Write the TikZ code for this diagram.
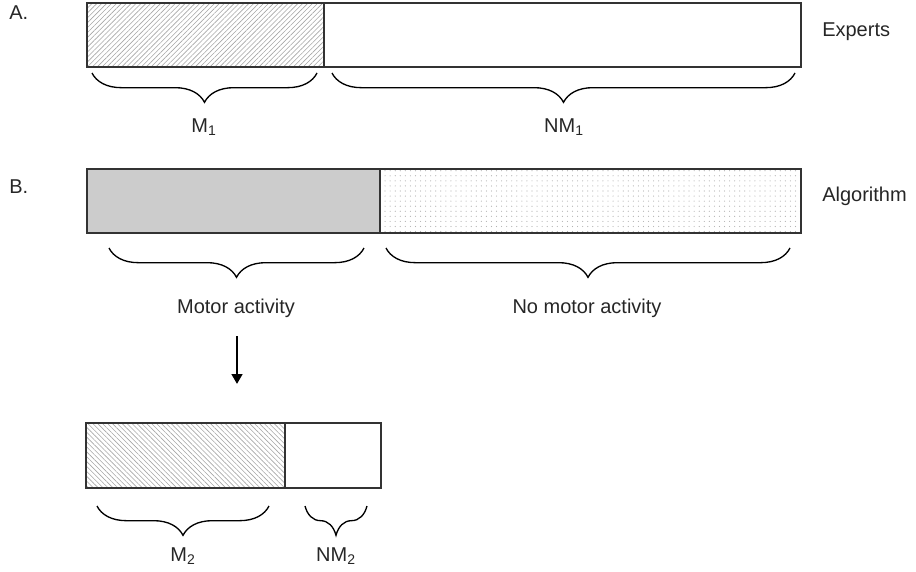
\documentclass[tikz,border=0pt]{standalone}
\usepackage{fontspec}
\setmainfont{Liberation Sans}
\usetikzlibrary{patterns,patterns.meta,decorations.pathreplacing,arrows.meta}
\begin{document}
\begin{tikzpicture}[x=0.75pt,y=-0.75pt,
  boxline/.style={draw=black!80,line width=1.1pt},
  hatchfill/.style={pattern={Lines[angle=#1,distance=2.6pt,line width=0.45pt]},pattern color=black!35},
  densefill/.style={fill=black!20},
  sparsefill/.style={pattern={Dots[distance=3.8pt,radius=0.45pt]},pattern color=black!30},
  bracemark/.style={decorate,decoration={brace,mirror,amplitude=22pt},line width=1pt},
  lbl/.style={font=\fontsize{15}{18}\selectfont,inner sep=0pt,text=black!85},
  flow/.style={line width=2.1pt,-{Triangle[length=7.5pt,width=8pt]}}]
\path[use as bounding box] (0,0) rectangle (916,571);

% panel labels
\node[lbl,anchor=west] (pa) at (9,13) {A.};
\node[lbl,anchor=west] (pb) at (9,187) {B.};

% A: expert scoring
\coordinate (a1) at (87,3);
\coordinate (a2) at (324,67);
\coordinate (a3) at (801,67);
\path[hatchfill=45] (87,3) rectangle (324,67);
\draw[boxline] (a1) rectangle (a3);
\draw[boxline] (324,3) -- (a2);
\node[lbl,anchor=west] (experts) at (822,32) {Experts};
\coordinate (m1l) at (92,73);
\coordinate (m1r) at (317,73);
\coordinate (n1l) at (332,73);
\coordinate (n1r) at (795,73);
\draw[bracemark] (m1l) -- (m1r);
\draw[bracemark] (n1l) -- (n1r);
\node[lbl] (m1) at (204,127) {M\textsubscript{1}};
\node[lbl] (nm1) at (564,127) {NM\textsubscript{1}};

% B: algorithm output
\coordinate (b1) at (87,169);
\coordinate (b2) at (380,233);
\coordinate (b3) at (801,233);
\path[densefill] (87,169) rectangle (380,233);
\path[sparsefill] (380,169) rectangle (801,233);
\draw[boxline] (b1) rectangle (b3);
\draw[boxline] (380,169) -- (b2);
\node[lbl,anchor=west] (algo) at (822,196) {Algorithm};
\coordinate (mal) at (109,248);
\coordinate (mar) at (364,248);
\coordinate (nal) at (386,248);
\coordinate (nar) at (790,248);
\draw[bracemark] (mal) -- (mar);
\draw[bracemark] (nal) -- (nar);
\node[lbl] (motor) at (236,308) {Motor activity};
\node[lbl] (nomotor) at (587,308) {No motor activity};

% arrow to the detail bar
\coordinate (arrs) at (237,336);
\coordinate (arre) at (237,384);
\draw[flow] (arrs) -- (arre);

% C: motor-activity segment split
\coordinate (c1) at (86,423);
\coordinate (c2) at (285,488);
\coordinate (c3) at (381,488);
\path[hatchfill=-45] (86,423) rectangle (285,488);
\draw[boxline] (c1) rectangle (c3);
\draw[boxline] (285,423) -- (c2);
\coordinate (m2l) at (97,506);
\coordinate (m2r) at (269,506);
\coordinate (n2l) at (305,506);
\coordinate (n2r) at (367,506);
\draw[bracemark] (m2l) -- (m2r);
\draw[bracemark] (n2l) -- (n2r);
\node[lbl] (m2) at (183,556) {M\textsubscript{2}};
\node[lbl] (nm2) at (336,556) {NM\textsubscript{2}};
\end{tikzpicture}
\end{document}
